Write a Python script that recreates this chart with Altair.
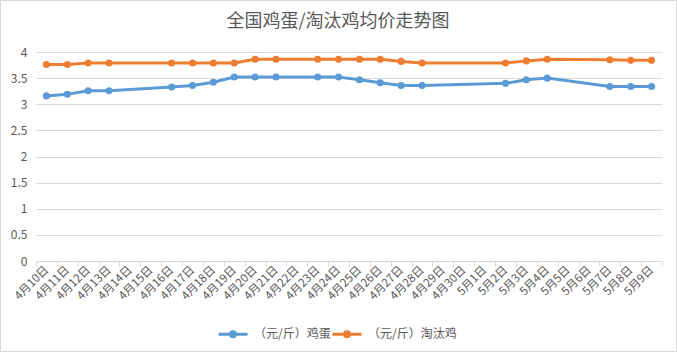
import altair as alt
import pandas as pd

all_dates = [f"4月{d}日" for d in range(10, 31)] + [f"5月{d}日" for d in range(1, 10)]

data_dates = ["4月10日", "4月11日", "4月12日", "4月13日", "4月16日", "4月17日", "4月18日",
              "4月19日", "4月20日", "4月21日", "4月23日", "4月24日", "4月25日", "4月26日",
              "4月27日", "4月28日", "5月2日", "5月3日", "5月4日", "5月7日", "5月8日", "5月9日"]
egg = [3.16, 3.19, 3.26, 3.26, 3.33, 3.36, 3.42, 3.52, 3.52, 3.52, 3.52, 3.52, 3.47, 3.41,
       3.36, 3.36, 3.40, 3.47, 3.50, 3.34, 3.34, 3.34]
hen = [3.76, 3.76, 3.79, 3.79, 3.79, 3.79, 3.79, 3.79, 3.86, 3.86, 3.86, 3.86, 3.86, 3.86,
       3.82, 3.79, 3.79, 3.83, 3.86, 3.85, 3.84, 3.84]

series_names = ["（元/斤）鸡蛋", "（元/斤）淘汰鸡"]
series_colors = ["#5B9BD5", "#ED7D31"]

rows = []
for d, e, h in zip(data_dates, egg, hen):
    rows.append({"date": d, "series": series_names[0], "value": e})
    rows.append({"date": d, "series": series_names[1], "value": h})
df = pd.DataFrame(rows)

FONT = "Noto Sans CJK SC"
TXT = "#595959"
GRID = "#D9D9D9"

base = alt.Chart(df).encode(
    x=alt.X("date:N", sort=all_dates,
            scale=alt.Scale(type="band", domain=all_dates, paddingInner=0, paddingOuter=0),
            axis=alt.Axis(title=None, labelAngle=-45, labelAlign="right", labelBaseline="middle",
                          labelPadding=2, tickBand="extent", tickSize=5, tickColor=GRID,
                          domainColor=GRID, labelColor=TXT, labelFontSize=11.5, labelFont=FONT,
                          grid=False)),
    y=alt.Y("value:Q", scale=alt.Scale(domain=[0, 4], nice=False),
            axis=alt.Axis(title=None, values=[0, 0.5, 1, 1.5, 2, 2.5, 3, 3.5, 4],
                          format="~g", domain=False, ticks=False, labelPadding=9,
                          labelColor=TXT, labelFontSize=12, labelFont=FONT,
                          gridColor=GRID, gridWidth=1)),
    color=alt.Color("series:N", scale=alt.Scale(domain=series_names, range=series_colors),
                    legend=alt.Legend(title=None, orient="none", direction="horizontal",
                                      legendX=181, legendY=266)),
)

lines = base.mark_line(strokeWidth=3)
points = base.mark_circle(size=50, opacity=1)

border = alt.Chart(pd.DataFrame({"a": [0]})).mark_rect(
    fill=None, stroke=GRID, strokeWidth=1
).encode(
    x=alt.value(-35.5), x2=alt.value(640.5), y=alt.value(-51.5), y2=alt.value(299.5)
)

chart = alt.layer(border, lines, points).properties(
    width=626, height=209,
    padding={"left": 36, "top": 52, "right": 15, "bottom": 91},
    autosize=alt.AutoSizeParams(type="none"),
    title=alt.TitleParams("全国鸡蛋/淘汰鸡均价走势图", fontSize=18, color=TXT, font=FONT,
                          fontWeight="normal", anchor="middle", offset=-31, dx=-11),
).configure_view(stroke=None).configure_legend(
    symbolType="M-1,0L1,0M-0.17,0A0.17,0.17,0,1,1,0.17,0A0.17,0.17,0,1,1,-0.17,0Z",
    symbolSize=841, symbolStrokeWidth=3, labelFont=FONT, labelFontSize=12,
    labelColor=TXT, labelOffset=5, columnPadding=-22,
)

chart.save("out.html", embed_options={"renderer": "svg", "actions": False})
